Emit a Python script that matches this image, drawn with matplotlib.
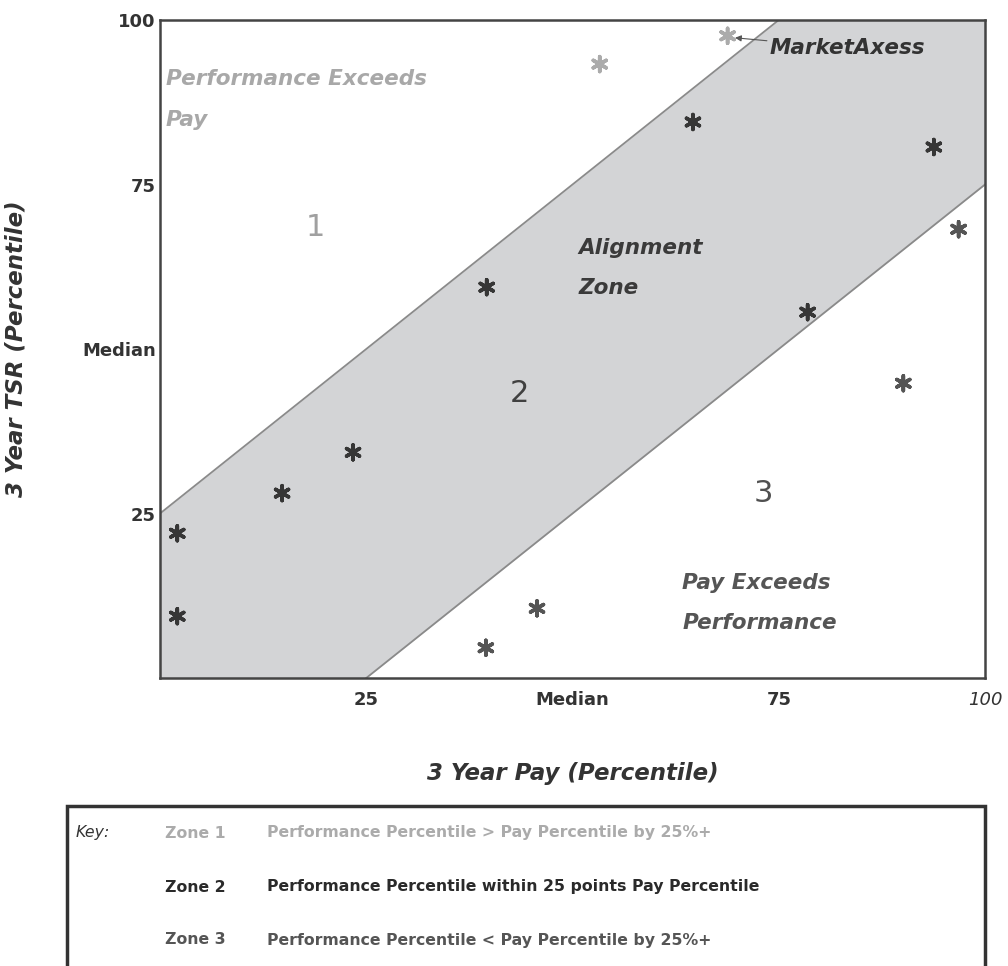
import matplotlib.pyplot as plt
from matplotlib.patches import Rectangle
import numpy as np

# company positions: pay percentile vs TSR percentile
pay = [2.1, 2.1, 14.8, 23.4, 39.6, 64.6, 78.5, 93.8,
       39.5, 45.7, 90.1, 96.8,
       53.3, 68.8]
tsr = [22.0, 9.4, 28.1, 34.3, 59.4, 84.5, 55.6, 80.7,
       4.6, 10.6, 44.8, 68.2,
       93.3, 97.6]
star_colors = ['#363636'] * 8 + ['#555555'] * 4 + ['#ababab'] * 2

band = 25  # alignment zone half-width in percentile points
tick_pos = [25, 50, 75, 100]
xtick_labels = ['25', 'Median', '75', '100']
ytick_labels = ['25', 'Median', '75', '100']

key_zones = ['Zone 1', 'Zone 2', 'Zone 3']
key_desc = ['Performance Percentile > Pay Percentile by 25%+',
            'Performance Percentile within 25 points Pay Percentile',
            'Performance Percentile < Pay Percentile by 25%+']
key_colors = ['#ababab', '#2a2a2a', '#555555']

fig = plt.figure(figsize=(10.08, 9.66), dpi=100)
ax = fig.add_axes([0.1587, 0.2981, 0.8185, 0.6812])

# shaded alignment band
xs = np.linspace(0, 100, 401)
ax.fill_between(xs, np.clip(xs - band, 0, 100), np.clip(xs + band, 0, 100),
                color='#d3d4d6', linewidth=0, zorder=1)
ax.plot(xs, xs + band, color='#8a8a8a', lw=1.3, zorder=2)
ax.plot(xs, xs - band, color='#8a8a8a', lw=1.3, zorder=2)

ax.scatter(pay, tsr, marker=(6, 2, 0), s=115, c=star_colors,
           linewidths=2.6, zorder=4)

ax.set_xlim(0, 100)
ax.set_ylim(0, 100)
ax.set_xticks(tick_pos)
ax.set_xticklabels(xtick_labels, fontsize=13, fontweight='bold', color='#333333')
ax.set_yticks(tick_pos)
ax.set_yticklabels(ytick_labels, fontsize=13, fontweight='bold', color='#333333')
ax.get_xticklabels()[-1].set_fontstyle('italic')
ax.get_xticklabels()[-1].set_fontweight('normal')
ax.tick_params(axis='x', length=0, pad=9)
ax.tick_params(axis='y', length=0, pad=3)
for s in ax.spines.values():
    s.set_color('#444444')
    s.set_linewidth(1.8)
    s.set_zorder(5)

ax.set_xlabel('3 Year Pay (Percentile)', fontsize=16.5, fontweight='bold',
              fontstyle='italic', color='#333333')
ax.xaxis.set_label_coords(0.5, -0.128)
ax.set_ylabel('3 Year TSR (Percentile)', fontsize=16.5, fontweight='bold',
              fontstyle='italic', color='#333333')
ax.yaxis.set_label_coords(-0.16, 0.5)

# zone labels
lbl = dict(fontsize=15.5, fontweight='bold', fontstyle='italic', va='center')
ax.text(0.7, 91.0, 'Performance Exceeds', color='#a8a8a8', **lbl)
ax.text(0.7, 84.8, 'Pay', color='#a8a8a8', **lbl)
ax.text(50.7, 65.3, 'Alignment', color='#3a3a3a', **lbl)
ax.text(50.7, 59.3, 'Zone', color='#3a3a3a', **lbl)
ax.text(63.3, 14.4, 'Pay Exceeds', color='#555555', **lbl)
ax.text(63.3, 8.4, 'Performance', color='#555555', **lbl)
ax.text(18.8, 68.4, '1', fontsize=22, color='#a0a0a0', ha='center', va='center')
ax.text(43.6, 43.3, '2', fontsize=22, color='#404040', ha='center', va='center')
ax.text(73.1, 28.1, '3', fontsize=22, color='#505050', ha='center', va='center')

ax.annotate('MarketAxess', xy=(pay[-1] + 0.9, tsr[-1] - 0.3), xytext=(73.9, 95.7),
            color='#333333',
            arrowprops=dict(arrowstyle='-|>', color='#555555', lw=0.8,
                            mutation_scale=9, shrinkA=0, shrinkB=0), **lbl)

# key box below the chart
fig.add_artist(Rectangle((0.0665, -0.05), 0.9107, 0.2156,
                         transform=fig.transFigure, fill=False,
                         edgecolor='#333333', linewidth=2.5))
fig.text(0.0754, 1 - 833 / 966, 'Key:', fontsize=11.3, fontstyle='italic',
         color='#333333', va='center')
row_y = [833, 887, 940]
for zone, desc, col, yy in zip(key_zones, key_desc, key_colors, row_y):
    fig.text(0.1637, 1 - yy / 966, zone, fontsize=11.3, fontweight='bold',
             color=col, va='center')
    fig.text(0.2649, 1 - yy / 966, desc, fontsize=11.3, fontweight='bold',
             color=col, va='center')

plt.savefig('out.png', dpi=100)
